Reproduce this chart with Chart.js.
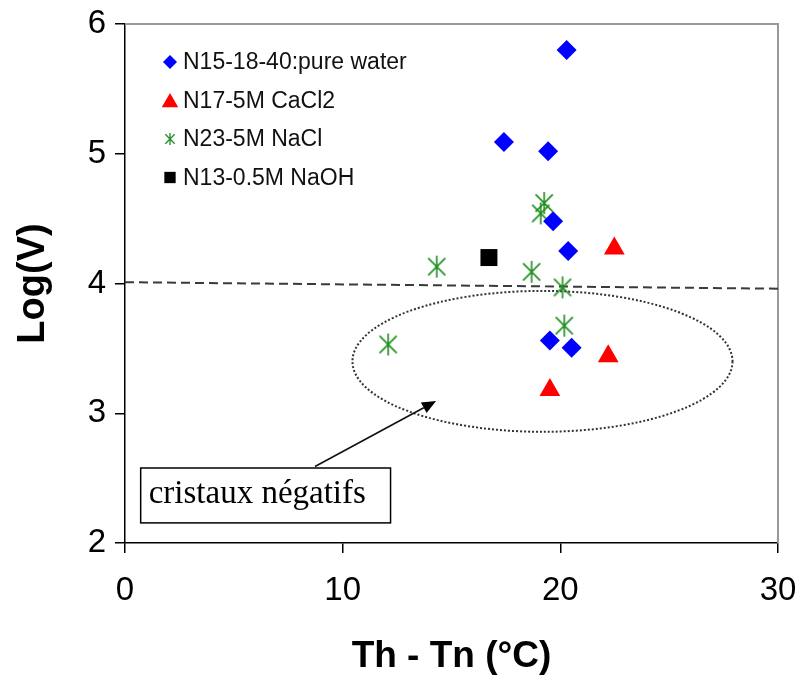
<!DOCTYPE html>
<html><head><meta charset="utf-8">
<script src="https://cdn.jsdelivr.net/npm/chart.js@4/dist/chart.umd.min.js"></script>
<style>html,body{margin:0;padding:0;background:#fff;}#wrap{width:800px;height:677px;position:relative;}</style>
</head><body><div id="wrap"><canvas id="c" width="800" height="677" style="width:800px;height:677px"></canvas></div>
<script>
// ---- data ----
const seriesNames = ["N15-18-40:pure water", "N17-5M CaCl2", "N23-5M NaCl", "N13-0.5M NaOH"];
const pureWaterX = [20.29, 17.41, 19.44, 19.67, 20.36, 19.52, 20.52];
const pureWaterY = [5.80, 5.09, 5.02, 4.48, 4.25, 3.56, 3.505];
const cacl2X = [22.48, 22.20, 19.52];
const cacl2Y = [4.27, 3.44, 3.18];
const naclX = [19.26, 19.10, 14.32, 18.68, 20.10, 20.18, 12.09];
const naclY = [4.62, 4.54, 4.13, 4.09, 3.97, 3.675, 3.53];
const naohX = [16.72];
const naohY = [4.20];
const thresholdX = [0, 30];
const thresholdY = [4.01, 3.96];
const xTicks = [0, 10, 20, 30];
const yTicks = [2, 3, 4, 5, 6];
const xTitle = "Th - Tn (°C)";
const yTitle = "Log(V)";
const noteText = "cristaux négatifs";
// annotation geometry in data units
const ellipseCenter = [19.18, 3.40];
const ellipseRadii = [8.73, 0.543];
const arrowFrom = [8.73, 2.59];
const arrowTo = [14.29, 3.094];
const noteBoxX = [0.72, 12.2];
const noteBoxY = [2.155, 2.578];

const pts = (xs, ys) => xs.map((x, i) => ({x, y: ys[i]}));
const GREEN = '#1f8f1f';
const FONT = "'Liberation Sans', Arial, sans-serif";

function asterisk(size, lw) {
  const c = document.createElement('canvas');
  c.width = size; c.height = size;
  const g = c.getContext('2d');
  g.strokeStyle = GREEN; g.lineWidth = lw; g.lineCap = 'butt';
  const m = size / 2, r = size / 2 - 1, d = r * 0.78;
  g.beginPath();
  g.moveTo(m, m - r); g.lineTo(m, m + r);
  g.moveTo(m - d, m - d); g.lineTo(m + d, m + d);
  g.moveTo(m + d, m - d); g.lineTo(m - d, m + d);
  g.stroke();
  return c;
}
const astBig = asterisk(24, 1.6);
const astSmall = asterisk(14, 1.3);

const annotations = {
  id: 'annotations',
  beforeDatasetsDraw(chart) {
    const {ctx, chartArea: a, scales: {x, y}} = chart;
    ctx.save();
    ctx.strokeStyle = '#9a9a9a'; ctx.lineWidth = 2;
    ctx.beginPath();
    ctx.moveTo(a.left, a.top); ctx.lineTo(a.right, a.top); ctx.lineTo(a.right, a.bottom);
    ctx.stroke();
    const cx = x.getPixelForValue(ellipseCenter[0]), cy = y.getPixelForValue(ellipseCenter[1]);
    const rx = x.getPixelForValue(ellipseCenter[0] + ellipseRadii[0]) - cx;
    const ry = cy - y.getPixelForValue(ellipseCenter[1] + ellipseRadii[1]);
    ctx.strokeStyle = '#333'; ctx.lineWidth = 2; ctx.setLineDash([2, 2]);
    ctx.beginPath(); ctx.ellipse(cx, cy, rx, ry, 0, 0, Math.PI * 2); ctx.stroke();
    ctx.setLineDash([]);
    const x0 = x.getPixelForValue(arrowFrom[0]), y0 = y.getPixelForValue(arrowFrom[1]);
    const x1 = x.getPixelForValue(arrowTo[0]), y1 = y.getPixelForValue(arrowTo[1]);
    const ang = Math.atan2(y1 - y0, x1 - x0);
    const hl = 14, hw = 6;
    const bx = x1 - hl * Math.cos(ang), by = y1 - hl * Math.sin(ang);
    ctx.strokeStyle = '#111'; ctx.lineWidth = 1.6;
    ctx.beginPath(); ctx.moveTo(x0, y0); ctx.lineTo(bx, by); ctx.stroke();
    ctx.fillStyle = '#000';
    ctx.beginPath();
    ctx.moveTo(x1, y1);
    ctx.lineTo(bx + hw * Math.sin(ang), by - hw * Math.cos(ang));
    ctx.lineTo(bx - hw * Math.sin(ang), by + hw * Math.cos(ang));
    ctx.closePath(); ctx.fill();
    ctx.restore();
  },
  afterDraw(chart) {
    const {ctx, scales: {x, y}} = chart;
    ctx.save();
    const l = x.getPixelForValue(noteBoxX[0]), r = x.getPixelForValue(noteBoxX[1]);
    const t = y.getPixelForValue(noteBoxY[1]), b = y.getPixelForValue(noteBoxY[0]);
    ctx.fillStyle = '#fff'; ctx.fillRect(l, t, r - l, b - t);
    ctx.strokeStyle = '#000'; ctx.lineWidth = 1.5; ctx.strokeRect(l, t, r - l, b - t);
    ctx.fillStyle = '#000';
    ctx.font = "33px 'Liberation Serif', 'Times New Roman', serif";
    ctx.textBaseline = 'alphabetic'; ctx.textAlign = 'left';
    ctx.fillText(noteText, l + 8, b - 20);
    const lx = 170, ly0 = 62, step = 38.5;
    const styles = [
      {pointStyle: 'rectRot', radius: 7, fill: '#0000ff'},
      {pointStyle: 'triangle', radius: 9.5, fill: '#ff0000'},
      {pointStyle: astSmall, radius: 7},
      {pointStyle: 'rect', radius: 8, fill: '#000'}
    ];
    ctx.font = "23px " + FONT;
    ctx.textBaseline = 'middle';
    seriesNames.forEach((name, i) => {
      const yy = ly0 + i * step;
      const s = styles[i];
      ctx.fillStyle = s.fill || '#000'; ctx.strokeStyle = s.fill || GREEN;
      const py = s.pointStyle === 'triangle' ? yy + 2 : yy;
      Chart.helpers.drawPoint(ctx, {pointStyle: s.pointStyle, radius: s.radius, rotation: 0, borderWidth: 0}, lx, py);
      ctx.fillStyle = '#111';
      ctx.fillText(name, 183, yy + 1);
    });
    ctx.restore();
  }
};

new Chart(document.getElementById('c'), {
  type: 'scatter',
  data: {
    datasets: [
      {label: 'threshold', type: 'line', data: pts(thresholdX, thresholdY), borderColor: '#3a3a3a', borderWidth: 2,
       borderDash: [9, 5], pointRadius: 0, fill: false, order: 5},
      {label: seriesNames[0], data: pts(pureWaterX, pureWaterY), pointStyle: 'rectRot', pointRadius: 10,
       backgroundColor: '#0000ff', borderColor: '#0000ff', borderWidth: 0},
      {label: seriesNames[1], data: pts(cacl2X, cacl2Y), pointStyle: 'triangle', pointRadius: 12,
       backgroundColor: '#ff0000', borderColor: '#ff0000', borderWidth: 0},
      {label: seriesNames[2], data: pts(naclX, naclY), pointStyle: astBig, pointRadius: 12,
       backgroundColor: GREEN, borderColor: GREEN},
      {label: seriesNames[3], data: pts(naohX, naohY), pointStyle: 'rect', pointRadius: 12,
       backgroundColor: '#000', borderColor: '#000', borderWidth: 0}
    ]
  },
  options: {
    responsive: false,
    maintainAspectRatio: false,
    animation: false,
    devicePixelRatio: 1,
    layout: {padding: {left: 0, right: 22, top: 24, bottom: 0}},
    plugins: {legend: {display: false}, tooltip: {enabled: false}},
    scales: {
      x: {
        type: 'linear', min: 0, max: 30,
        afterBuildTicks(s) { s.ticks = xTicks.map(v => ({value: v})); },
        afterFit(s) { s.height = 134; s.paddingLeft = 0; s.paddingRight = 0; },
        border: {color: '#000', width: 1.5},
        grid: {drawOnChartArea: false, drawTicks: true, tickLength: 10, color: '#000', lineWidth: 1.5},
        ticks: {color: '#000', font: {family: FONT, size: 33}, padding: 18, maxRotation: 0},
        title: {display: true, text: xTitle, color: '#000', font: {family: FONT, size: 37, weight: 'bold'}, padding: {top: 0, bottom: -2}}
      },
      y: {
        type: 'linear', min: 2, max: 6,
        afterBuildTicks(s) { s.ticks = yTicks.map(v => ({value: v})); },
        afterFit(s) { s.width = 125; s.paddingTop = 0; s.paddingBottom = 0; },
        border: {color: '#000', width: 1.5},
        grid: {drawOnChartArea: false, drawTicks: true, tickLength: 10, color: '#000', lineWidth: 1.5},
        ticks: {color: '#000', font: {family: FONT, size: 33}, padding: 9},
        title: {display: true, text: yTitle, color: '#000', font: {family: FONT, size: 38, weight: 'bold'}, padding: {top: 11, bottom: 0}}
      }
    }
  },
  plugins: [annotations]
});
</script></body></html>
